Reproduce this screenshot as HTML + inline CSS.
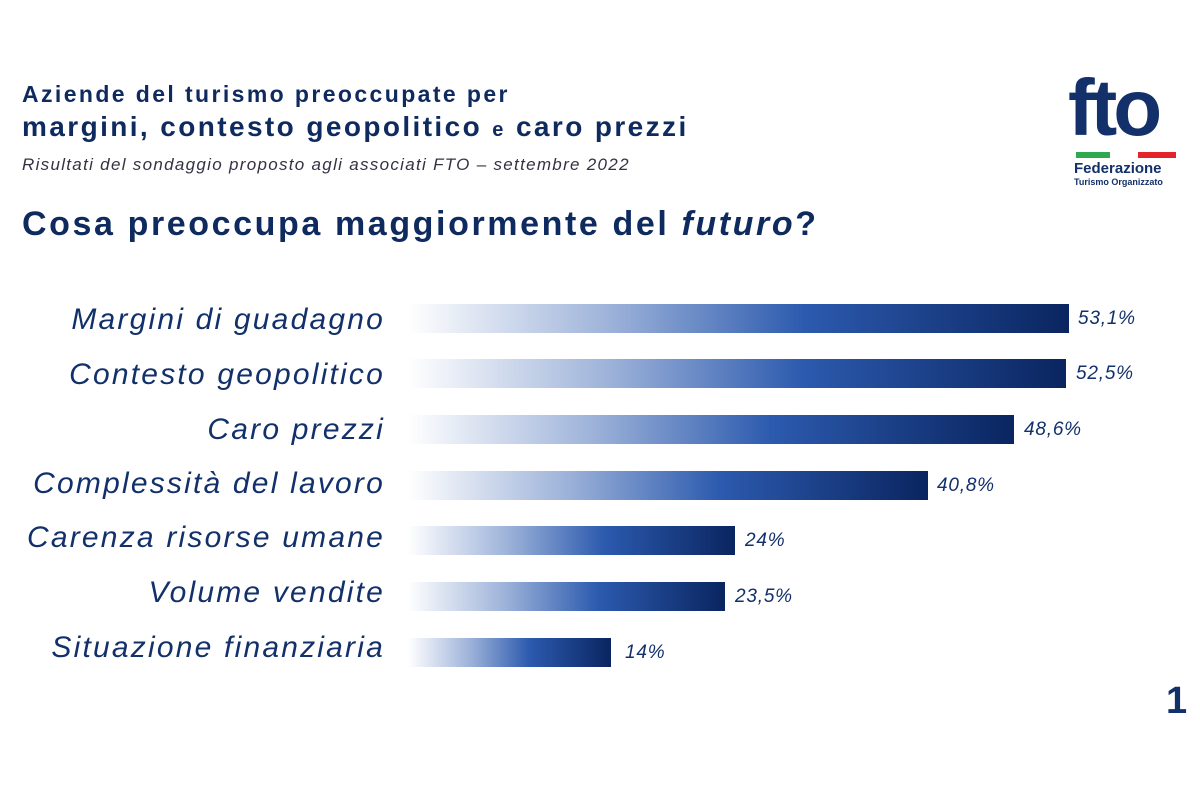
<!DOCTYPE html>
<html><head><meta charset="utf-8"><style>
body{margin:0;width:1200px;height:800px;background:#fff;position:relative;overflow:hidden;font-family:"Liberation Sans",sans-serif;color:#0e2a5e}
.a{position:absolute;white-space:nowrap}
.bar{position:absolute;left:408px;height:29px;background:linear-gradient(90deg,#ffffff 0%,#9fb4da 30%,#2c5aae 60%,#0a2560 100%)}
.lab{position:absolute;right:815px;font-style:italic;font-size:30px;letter-spacing:2.2px;color:#12306a;white-space:nowrap}
.val{position:absolute;font-style:italic;font-size:19px;letter-spacing:0.8px;color:#12306a}
</style></head><body>
<div class="a" style="left:22px;top:81px;font-size:23px;letter-spacing:2.4px;font-weight:bold">Aziende del turismo preoccupate per</div>
<div class="a" style="left:22px;top:111px;font-size:28px;letter-spacing:2.4px;font-weight:bold">margini, contesto geopolitico <span style="font-size:20px">e</span> caro prezzi</div>
<div class="a" style="left:22px;top:155px;font-size:17px;letter-spacing:1.3px;font-style:italic;color:#334">Risultati del sondaggio proposto agli associati FTO – settembre 2022</div>
<div class="a" style="left:22px;top:205px;font-size:34px;letter-spacing:2.6px;font-weight:bold">Cosa preoccupa maggiormente del <i>futuro</i>?</div>

<div class="a" style="left:1068px;top:68px;font-size:80px;font-weight:bold;color:#13306a;letter-spacing:-4px;line-height:1">fto</div>
<div class="a" style="left:1076px;top:152px;width:34px;height:6px;background:#2fa84f"></div>
<div class="a" style="left:1138px;top:152px;width:38px;height:6px;background:#e3252b"></div>
<div class="a" style="left:1074px;top:160px;font-size:15px;font-weight:bold;color:#13306a">Federazione</div>
<div class="a" style="left:1074px;top:177px;font-size:9px;font-weight:bold;color:#13306a">Turismo Organizzato</div>

<div class="lab" style="top:303px">Margini di guadagno</div>
<div class="bar" style="top:304px;width:661px"></div><div class="val" style="left:1078px;top:308px">53,1%</div>
<div class="lab" style="top:358px">Contesto geopolitico</div>
<div class="bar" style="top:359px;width:658px"></div><div class="val" style="left:1076px;top:363px">52,5%</div>
<div class="lab" style="top:413px">Caro prezzi</div>
<div class="bar" style="top:415px;width:606px"></div><div class="val" style="left:1024px;top:419px">48,6%</div>
<div class="lab" style="top:467px">Complessità del lavoro</div>
<div class="bar" style="top:471px;width:520px"></div><div class="val" style="left:937px;top:475px">40,8%</div>
<div class="lab" style="top:521px">Carenza risorse umane</div>
<div class="bar" style="top:526px;width:327px"></div><div class="val" style="left:745px;top:530px">24%</div>
<div class="lab" style="top:576px">Volume vendite</div>
<div class="bar" style="top:582px;width:317px"></div><div class="val" style="left:735px;top:586px">23,5%</div>
<div class="lab" style="top:631px">Situazione finanziaria</div>
<div class="bar" style="top:638px;width:203px"></div><div class="val" style="left:625px;top:642px">14%</div>

<div class="a" style="left:1166px;top:680px;font-size:38px;font-weight:bold;color:#13306a">1</div>
</body></html>
